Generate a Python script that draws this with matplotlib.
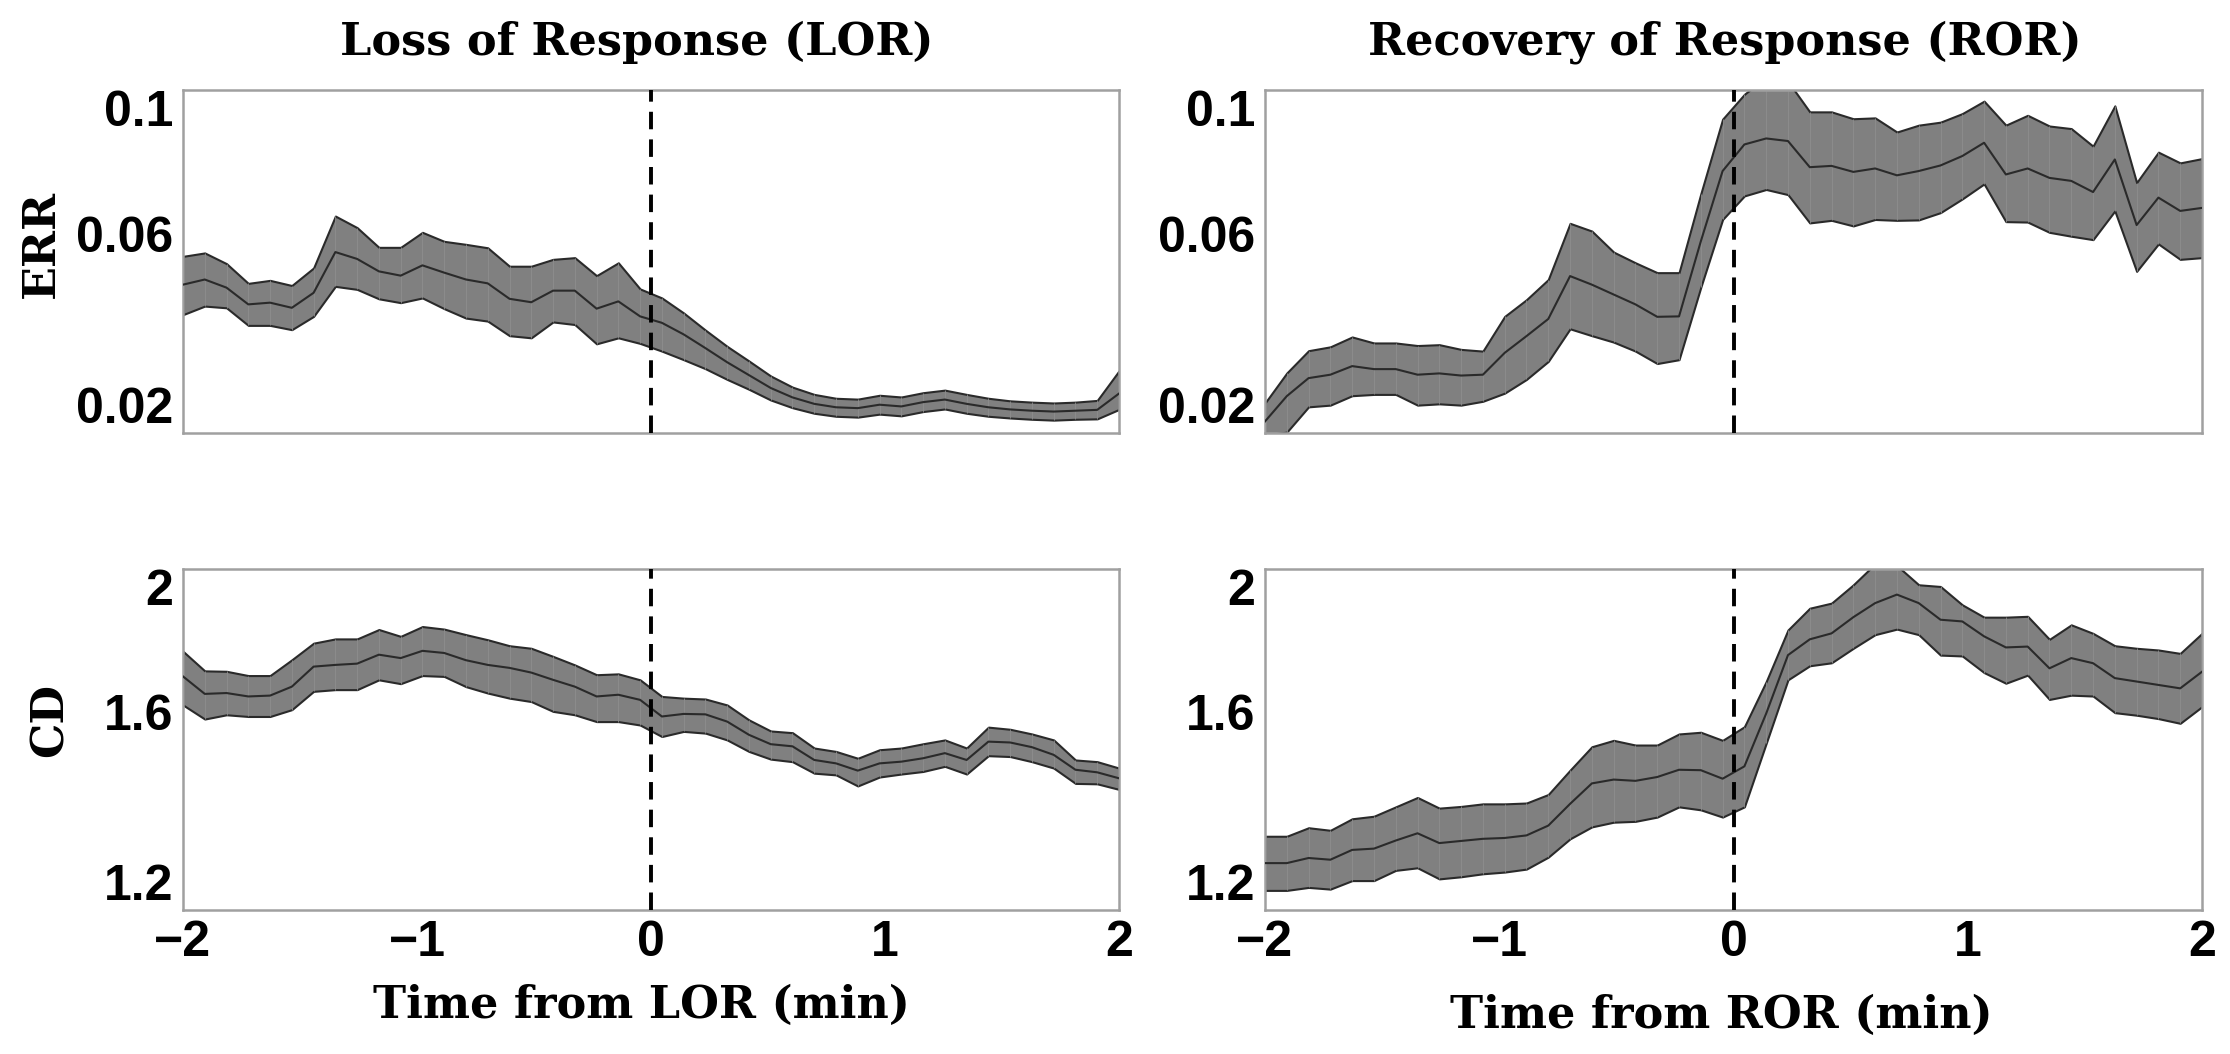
import matplotlib.pyplot as plt
import numpy as np

# time grid (min) shared by all panels
t = np.linspace(-2, 2, 44)

# ERR around loss of response
err_lor_mean = [0.0546, 0.0558, 0.0539, 0.0500, 0.0504, 0.0492, 0.0527, 0.0622, 0.0606, 0.0577, 0.0567,
                0.0591, 0.0574, 0.0558, 0.0549, 0.0513, 0.0505, 0.0532, 0.0532, 0.0490, 0.0507, 0.0472,
                0.0457, 0.0430, 0.0398, 0.0365, 0.0335, 0.0305, 0.0283, 0.0268, 0.0260, 0.0258, 0.0266,
                0.0262, 0.0272, 0.0278, 0.0268, 0.0260, 0.0255, 0.0252, 0.0250, 0.0252, 0.0254, 0.0292]
err_lor_up = [0.0612, 0.0620, 0.0595, 0.0549, 0.0556, 0.0544, 0.0585, 0.0706, 0.0679, 0.0633, 0.0633,
              0.0668, 0.0647, 0.0640, 0.0632, 0.0589, 0.0589, 0.0605, 0.0609, 0.0567, 0.0597, 0.0536,
              0.0515, 0.0480, 0.0440, 0.0402, 0.0368, 0.0333, 0.0307, 0.0290, 0.0281, 0.0279, 0.0288,
              0.0284, 0.0294, 0.0300, 0.0290, 0.0281, 0.0275, 0.0272, 0.0270, 0.0272, 0.0276, 0.0345]
err_lor_lo = [0.0476, 0.0496, 0.0492, 0.0451, 0.0451, 0.0441, 0.0472, 0.0542, 0.0535, 0.0513, 0.0504,
              0.0515, 0.0490, 0.0468, 0.0461, 0.0427, 0.0422, 0.0459, 0.0453, 0.0408, 0.0422, 0.0409,
              0.0391, 0.0371, 0.0350, 0.0325, 0.0302, 0.0277, 0.0259, 0.0246, 0.0239, 0.0237, 0.0244,
              0.0240, 0.0250, 0.0256, 0.0246, 0.0239, 0.0235, 0.0232, 0.0230, 0.0232, 0.0233, 0.0255]

# ERR around recovery of response
err_ror_mean = [0.0227, 0.0286, 0.0328, 0.0336, 0.0356, 0.0349, 0.0349, 0.0336, 0.0339, 0.0334, 0.0336,
                0.0387, 0.0426, 0.0466, 0.0566, 0.0546, 0.0523, 0.0500, 0.0471, 0.0472, 0.0647, 0.0811,
                0.0873, 0.0887, 0.0881, 0.0820, 0.0823, 0.0809, 0.0817, 0.0801, 0.0811, 0.0824, 0.0846,
                0.0877, 0.0803, 0.0817, 0.0795, 0.0788, 0.0762, 0.0838, 0.0685, 0.0749, 0.0718, 0.0725]
err_ror_up = [0.0270, 0.0340, 0.0392, 0.0401, 0.0424, 0.0410, 0.0410, 0.0404, 0.0406, 0.0395, 0.0391,
              0.0472, 0.0511, 0.0558, 0.0689, 0.0671, 0.0622, 0.0597, 0.0574, 0.0574, 0.0758, 0.0932,
              0.0990, 0.1030, 0.1020, 0.0949, 0.0949, 0.0933, 0.0935, 0.0902, 0.0918, 0.0925, 0.0945,
              0.0974, 0.0918, 0.0941, 0.0916, 0.0910, 0.0869, 0.0963, 0.0784, 0.0855, 0.0830, 0.0840]
err_ror_lo = [0.0195, 0.0202, 0.0261, 0.0265, 0.0287, 0.0290, 0.0290, 0.0265, 0.0268, 0.0265, 0.0274,
              0.0293, 0.0325, 0.0367, 0.0443, 0.0427, 0.0412, 0.0391, 0.0362, 0.0371, 0.0540, 0.0698,
              0.0753, 0.0768, 0.0756, 0.0690, 0.0696, 0.0683, 0.0698, 0.0696, 0.0697, 0.0714, 0.0746,
              0.0781, 0.0693, 0.0692, 0.0668, 0.0659, 0.0651, 0.0718, 0.0577, 0.0641, 0.0605, 0.0609]

# CD around loss of response
cd_lor_mean = [1.748, 1.707, 1.709, 1.701, 1.703, 1.724, 1.771, 1.775, 1.778, 1.799, 1.791,
               1.808, 1.803, 1.786, 1.775, 1.768, 1.757, 1.740, 1.724, 1.701, 1.705, 1.693,
               1.654, 1.660, 1.659, 1.642, 1.611, 1.589, 1.584, 1.552, 1.544, 1.527, 1.544,
               1.548, 1.556, 1.568, 1.552, 1.595, 1.593, 1.582, 1.564, 1.529, 1.523, 1.509]
cd_lor_up = [1.807, 1.761, 1.760, 1.750, 1.750, 1.787, 1.826, 1.836, 1.836, 1.858, 1.842,
             1.865, 1.859, 1.846, 1.834, 1.820, 1.814, 1.795, 1.775, 1.752, 1.754, 1.740,
             1.701, 1.697, 1.695, 1.681, 1.646, 1.620, 1.616, 1.580, 1.572, 1.556, 1.576,
             1.580, 1.590, 1.599, 1.580, 1.629, 1.624, 1.613, 1.599, 1.552, 1.548, 1.533]
cd_lor_lo = [1.681, 1.648, 1.658, 1.654, 1.654, 1.670, 1.713, 1.717, 1.717, 1.740, 1.731,
             1.750, 1.748, 1.724, 1.709, 1.697, 1.689, 1.666, 1.658, 1.642, 1.642, 1.634,
             1.607, 1.619, 1.615, 1.599, 1.572, 1.554, 1.548, 1.521, 1.517, 1.491, 1.512,
             1.519, 1.525, 1.537, 1.519, 1.562, 1.560, 1.548, 1.533, 1.497, 1.496, 1.483]

# CD around recovery of response
cd_ror_mean = [1.310, 1.310, 1.322, 1.318, 1.341, 1.344, 1.363, 1.380, 1.357, 1.362, 1.367,
               1.369, 1.375, 1.398, 1.449, 1.497, 1.506, 1.503, 1.512, 1.529, 1.528, 1.508,
               1.537, 1.661, 1.798, 1.835, 1.849, 1.887, 1.920, 1.940, 1.920, 1.881, 1.877,
               1.842, 1.816, 1.818, 1.767, 1.791, 1.779, 1.744, 1.736, 1.728, 1.720, 1.759]
cd_ror_up = [1.373, 1.373, 1.393, 1.387, 1.414, 1.420, 1.442, 1.464, 1.439, 1.443, 1.449,
             1.449, 1.451, 1.471, 1.528, 1.583, 1.598, 1.587, 1.587, 1.613, 1.617, 1.598,
             1.630, 1.736, 1.857, 1.908, 1.920, 1.963, 2.012, 2.008, 1.963, 1.959, 1.916,
             1.887, 1.887, 1.889, 1.835, 1.869, 1.849, 1.820, 1.814, 1.810, 1.802, 1.849]
cd_ror_lo = [1.246, 1.246, 1.253, 1.249, 1.269, 1.269, 1.293, 1.299, 1.273, 1.278, 1.285,
             1.289, 1.296, 1.324, 1.367, 1.395, 1.406, 1.408, 1.418, 1.442, 1.435, 1.418,
             1.442, 1.591, 1.740, 1.773, 1.780, 1.814, 1.846, 1.859, 1.846, 1.798, 1.796,
             1.757, 1.732, 1.751, 1.694, 1.704, 1.702, 1.663, 1.657, 1.649, 1.638, 1.677]

err_ticks = [0.02, 0.06, 0.1]
err_ticklabels = ['0.02', '0.06', '0.1']
cd_ticks = [1.2, 1.6, 2.0]
cd_ticklabels = ['1.2', '1.6', '2']
x_ticks = [-2, -1, 0, 1, 2]
x_ticklabels = ['\u22122', '\u22121', '0', '1', '2']

W, H = 2230, 1054
fig = plt.figure(figsize=(W / 100, H / 100), dpi=100)

def box(x0, y0, x1, y1):
    return [x0 / W, 1 - y1 / H, (x1 - x0) / W, (y1 - y0) / H]

tick_font = dict(family='Liberation Sans', weight='bold', size=36)
serif = dict(family='DejaVu Serif', weight='bold', size=32)

def panel(rect, mean, up, lo, ylim, yticks, yticklabels, show_x):
    ax = fig.add_axes(rect)
    ax.fill_between(t, lo, up, facecolor='#808080', edgecolor='#2a2a2a', linewidth=1.5, zorder=2)
    # faint patch seams like the original render
    ax.vlines(t, lo, up, colors='#8e8e8e', linewidth=0.6, zorder=2.5)
    ax.plot(t, mean, color='#2a2a2a', linewidth=1.5, zorder=3)
    ax.axvline(0, color='black', linewidth=2.8, dashes=(4.5, 2.6), zorder=4)
    ax.set_xlim(-2, 2)
    ax.set_ylim(*ylim)
    ax.set_xticks(x_ticks)
    ax.set_yticks(yticks)
    ax.set_yticklabels(yticklabels, fontdict=tick_font)
    if show_x:
        ax.set_xticklabels(x_ticklabels, fontdict=tick_font)
    else:
        ax.set_xticklabels([])
    ax.tick_params(length=0, pad=7)
    labs = ax.get_yticklabels()
    labs[-1].set_verticalalignment('top')
    for lab in labs[:-1]:
        lab.set_verticalalignment('bottom')
    for s in ax.spines.values():
        s.set_color('#a0a0a0')
        s.set_linewidth(1.8)
    return ax

ax1 = panel(box(183, 90, 1119, 433), err_lor_mean, err_lor_up, err_lor_lo,
            (0.02, 0.1), err_ticks, err_ticklabels, False)
ax2 = panel(box(1265, 90, 2202, 433), err_ror_mean, err_ror_up, err_ror_lo,
            (0.02, 0.1), err_ticks, err_ticklabels, False)
ax3 = panel(box(183, 569, 1119, 910), cd_lor_mean, cd_lor_up, cd_lor_lo,
            (1.2, 2.0), cd_ticks, cd_ticklabels, True)
ax4 = panel(box(1265, 569, 2202, 910), cd_ror_mean, cd_ror_up, cd_ror_lo,
            (1.2, 2.0), cd_ticks, cd_ticklabels, True)

fig.text(637 / W, 1 - 42 / H, 'Loss of Response (LOR)', ha='center', va='center', **serif)
fig.text(1725 / W, 1 - 42 / H, 'Recovery of Response (ROR)', ha='center', va='center', **serif)
fig.text(41 / W, 1 - 244 / H, 'ERR', ha='center', va='center', rotation=90, **serif)
fig.text(50 / W, 1 - 720 / H, 'CD', ha='center', va='center', rotation=90, **serif)
fig.text(641 / W, 1 - 1005 / H, 'Time from LOR (min)', ha='center', va='center', **serif)
fig.text(1721 / W, 1 - 1015 / H, 'Time from ROR (min)', ha='center', va='center', **serif)

fig.savefig('out.png', dpi=100)
